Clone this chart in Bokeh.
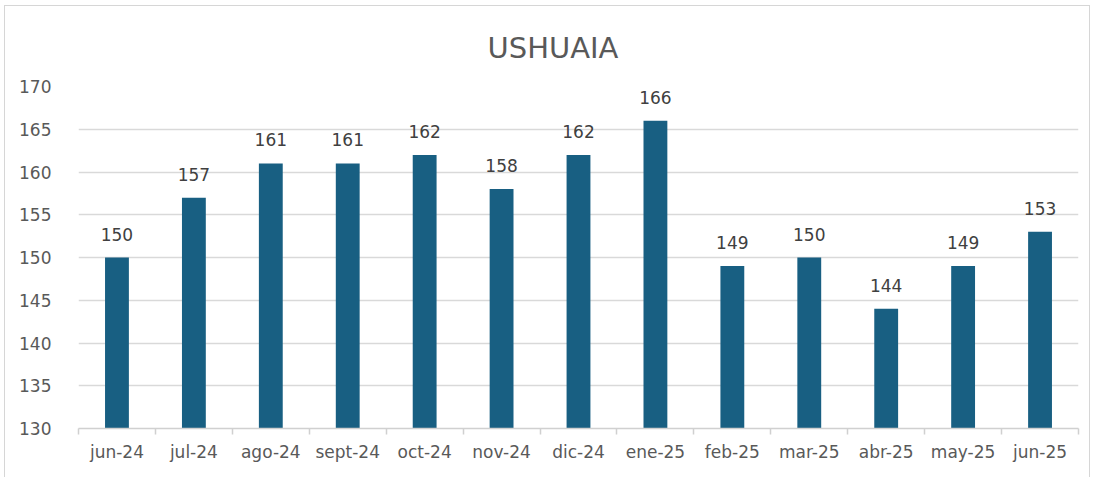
from bokeh.plotting import figure
from bokeh.models import ColumnDataSource, LabelSet, FixedTicker
from bokeh.core.properties import value
from bokeh.embed import file_html
from bokeh.resources import INLINE

months = ["jun-24", "jul-24", "ago-24", "sept-24", "oct-24", "nov-24", "dic-24",
          "ene-25", "feb-25", "mar-25", "abr-25", "may-25", "jun-25"]
values = [150, 157, 161, 161, 162, 158, 162, 166, 149, 150, 144, 149, 153]
y_ticks = [130, 135, 140, 145, 150, 155, 160, 165, 170]
title_text = "USHUAIA"

n = len(months)
xs = [i + 0.5 for i in range(n)]
src = ColumnDataSource(dict(x=xs, top=values, lab=[str(v) for v in values]))

FONT = "DejaVu Sans"
TXT = "#595959"

p = figure(width=1086, height=472, x_range=(0, n), y_range=(130, 170),
           output_backend="svg", toolbar_location=None,
           min_border_left=73, min_border_right=13, min_border_top=80,
           min_border_bottom=50)
p.styles = {"border": "1px solid #D6D6D6", "border-bottom": "none",
            "margin-left": "4px", "margin-top": "5px"}
p.outline_line_color = None
p.background_fill_color = "white"

p.title.text = title_text
p.title.align = "left"
p.title.offset = 409
p.title.standoff = 44
p.title.text_font = FONT
p.title.text_font_size = "29px"
p.title.text_font_style = "normal"
p.title.text_color = TXT

p.vbar(x="x", top="top", bottom=130, width=0.31, source=src,
       fill_color="#185F82", line_color=None)

p.add_layout(LabelSet(x="x", y="top", text="lab", source=src, text_align="center",
                      text_baseline="bottom", y_offset=17,
                      text_font=value(FONT), text_font_size="17px",
                      text_color="#404040"))

# x axis
xa = p.xaxis[0]
xa.ticker = FixedTicker(ticks=xs, minor_ticks=list(range(n + 1)))
xa.major_label_overrides = {x: m for x, m in zip(xs, months)}
xa.major_tick_line_color = None
xa.major_tick_out = 0
xa.major_tick_in = 0
xa.minor_tick_line_color = "#D0D0D0"
xa.minor_tick_out = 6
xa.minor_tick_in = 0
xa.minor_tick_line_width = 1.5
xa.axis_line_color = "#D0D0D0"
xa.axis_line_width = 1.5
xa.major_label_standoff = 7
xa.major_label_text_font = FONT
xa.major_label_text_font_size = "17px"
xa.major_label_text_color = TXT

# y axis
ya = p.yaxis[0]
ya.ticker = FixedTicker(ticks=y_ticks)
ya.axis_line_color = None
ya.major_tick_line_color = None
ya.minor_tick_line_color = None
ya.major_label_standoff = 21
ya.major_label_text_font = FONT
ya.major_label_text_font_size = "17px"
ya.major_label_text_color = TXT

p.xgrid.grid_line_color = None
p.ygrid.grid_line_color = "#D9D9D9"
p.ygrid.grid_line_width = 1.5

open("out.html", "w").write(file_html(p, INLINE))
